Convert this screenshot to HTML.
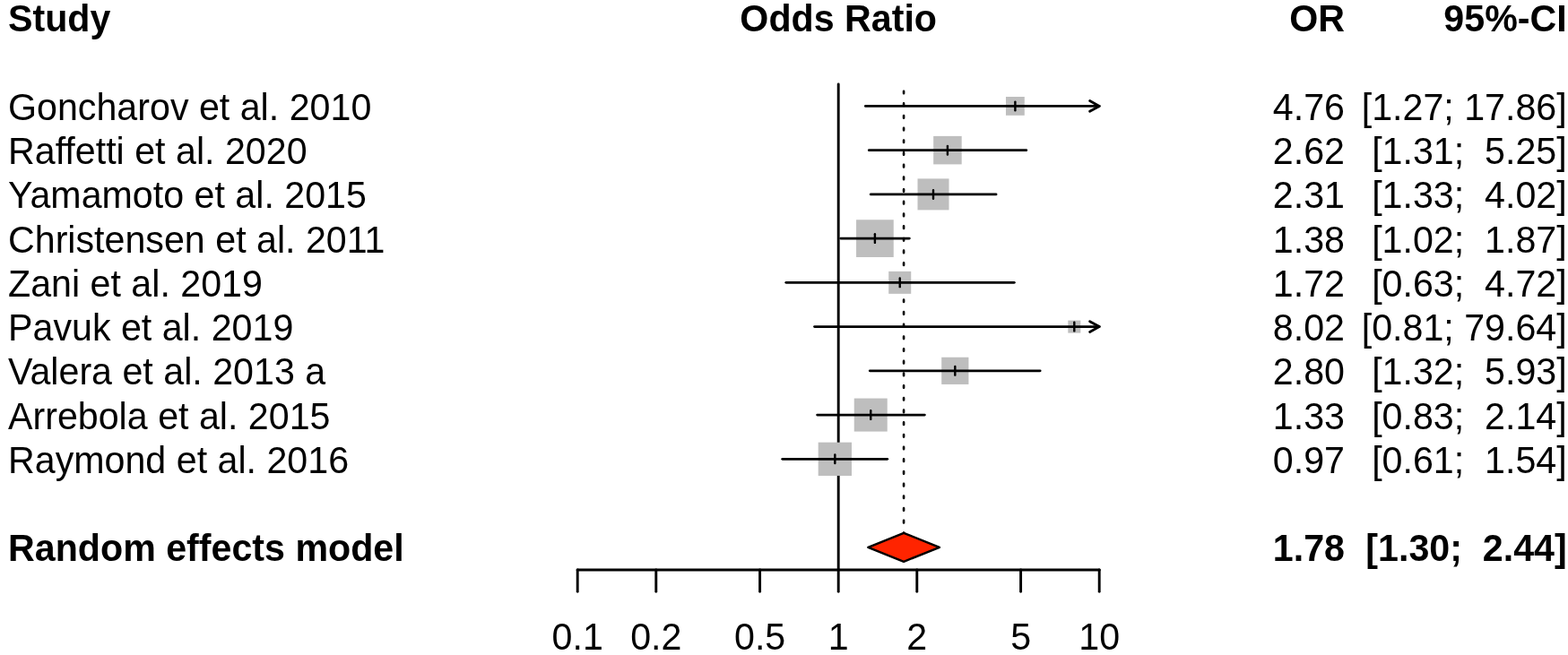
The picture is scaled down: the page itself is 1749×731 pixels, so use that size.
<!DOCTYPE html><html><head><meta charset="utf-8"><title>Forest plot</title><style>
html,body{margin:0;padding:0;background:#fff;width:1749px;height:731px;overflow:hidden}
svg{display:block}
text{font-family:"Liberation Sans",Arial,sans-serif;font-size:41.2px;fill:#000;white-space:pre}
.b{font-weight:bold}.e{text-anchor:end}.m{text-anchor:middle}
</style></head><body>
<svg width="1749" height="731" viewBox="0 0 1749 731">
<text class="b" transform="translate(9.00 35.10) scale(1 1.045)">Study</text>
<text class="b m" transform="translate(935.20 35.10) scale(1 1.045)">Odds Ratio</text>
<text class="b e" transform="translate(1500.00 35.10) scale(1 1.045)">OR</text>
<text class="b e" transform="translate(1747.70 35.10) scale(1 1.045)">95%-CI</text>
<line x1="935.2" y1="94" x2="935.2" y2="636" stroke="#000" stroke-width="2.9" stroke-linecap="round"/>
<line x1="1008.07" y1="101.7" x2="1008.07" y2="596" stroke="#000" stroke-width="2.6" stroke-dasharray="2.6 11.09" stroke-linecap="round"/>
<text transform="translate(9.00 134.00) scale(1 1.045)">Goncharov et al. 2010</text>
<text class="e" transform="translate(1500.00 134.00) scale(1 1.045)">4.76</text>
<text class="e" transform="translate(1747.70 134.00) scale(1 1.045)">[1.27; 17.86]</text>
<rect x="1121.98" y="108.00" width="20.80" height="20.80" fill="#bebebe"/>
<line x1="965.41" y1="118.40" x2="1226.20" y2="118.40" stroke="#000" stroke-width="2.85" stroke-linecap="round"/>
<line x1="1132.38" y1="113.60" x2="1132.38" y2="123.20" stroke="#000" stroke-width="2.4" stroke-linecap="round"/>
<polyline points="1215.60,112.60 1226.20,118.40 1215.60,124.20" fill="none" stroke="#000" stroke-width="2.85" stroke-linecap="round" stroke-linejoin="round"/>
<text transform="translate(9.00 183.24) scale(1 1.045)">Raffetti et al. 2020</text>
<text class="e" transform="translate(1500.00 183.24) scale(1 1.045)">2.62</text>
<text class="e" transform="translate(1747.70 183.24) scale(1 1.045)">[1.31;  5.25]</text>
<rect x="1041.18" y="151.89" width="31.50" height="31.50" fill="#bebebe"/>
<line x1="969.33" y1="167.64" x2="1144.77" y2="167.64" stroke="#000" stroke-width="2.85" stroke-linecap="round"/>
<line x1="1056.93" y1="162.84" x2="1056.93" y2="172.44" stroke="#000" stroke-width="2.4" stroke-linecap="round"/>
<text transform="translate(9.00 232.48) scale(1 1.045)">Yamamoto et al. 2015</text>
<text class="e" transform="translate(1500.00 232.48) scale(1 1.045)">2.31</text>
<text class="e" transform="translate(1747.70 232.48) scale(1 1.045)">[1.33;  4.02]</text>
<rect x="1023.51" y="199.38" width="35.00" height="35.00" fill="#bebebe"/>
<line x1="971.24" y1="216.88" x2="1111.03" y2="216.88" stroke="#000" stroke-width="2.85" stroke-linecap="round"/>
<line x1="1041.01" y1="212.08" x2="1041.01" y2="221.68" stroke="#000" stroke-width="2.4" stroke-linecap="round"/>
<text transform="translate(9.00 281.72) scale(1 1.045)">Christensen et al. 2011</text>
<text class="e" transform="translate(1500.00 281.72) scale(1 1.045)">1.38</text>
<text class="e" transform="translate(1747.70 281.72) scale(1 1.045)">[1.02;  1.87]</text>
<rect x="955.05" y="245.27" width="41.70" height="41.70" fill="#bebebe"/>
<line x1="937.70" y1="266.12" x2="1014.31" y2="266.12" stroke="#000" stroke-width="2.85" stroke-linecap="round"/>
<line x1="975.90" y1="261.32" x2="975.90" y2="270.92" stroke="#000" stroke-width="2.4" stroke-linecap="round"/>
<text transform="translate(9.00 330.96) scale(1 1.045)">Zani et al. 2019</text>
<text class="e" transform="translate(1500.00 330.96) scale(1 1.045)">1.72</text>
<text class="e" transform="translate(1747.70 330.96) scale(1 1.045)">[0.63;  4.72]</text>
<rect x="991.24" y="302.86" width="25.00" height="25.00" fill="#bebebe"/>
<line x1="876.81" y1="315.36" x2="1131.32" y2="315.36" stroke="#000" stroke-width="2.85" stroke-linecap="round"/>
<line x1="1003.74" y1="310.56" x2="1003.74" y2="320.16" stroke="#000" stroke-width="2.4" stroke-linecap="round"/>
<text transform="translate(9.00 380.20) scale(1 1.045)">Pavuk et al. 2019</text>
<text class="e" transform="translate(1500.00 380.20) scale(1 1.045)">8.02</text>
<text class="e" transform="translate(1747.70 380.20) scale(1 1.045)">[0.81; 79.64]</text>
<rect x="1191.31" y="357.60" width="14.00" height="14.00" fill="#bebebe"/>
<line x1="908.57" y1="364.60" x2="1226.20" y2="364.60" stroke="#000" stroke-width="2.85" stroke-linecap="round"/>
<line x1="1198.31" y1="359.80" x2="1198.31" y2="369.40" stroke="#000" stroke-width="2.4" stroke-linecap="round"/>
<polyline points="1215.60,358.80 1226.20,364.60 1215.60,370.40" fill="none" stroke="#000" stroke-width="2.85" stroke-linecap="round" stroke-linejoin="round"/>
<text transform="translate(9.00 429.44) scale(1 1.045)">Valera et al. 2013 a</text>
<text class="e" transform="translate(1500.00 429.44) scale(1 1.045)">2.80</text>
<text class="e" transform="translate(1747.70 429.44) scale(1 1.045)">[1.32;  5.93]</text>
<rect x="1050.22" y="398.74" width="30.20" height="30.20" fill="#bebebe"/>
<line x1="970.29" y1="413.84" x2="1160.16" y2="413.84" stroke="#000" stroke-width="2.85" stroke-linecap="round"/>
<line x1="1065.32" y1="409.04" x2="1065.32" y2="418.64" stroke="#000" stroke-width="2.4" stroke-linecap="round"/>
<text transform="translate(9.00 478.68) scale(1 1.045)">Arrebola et al. 2015</text>
<text class="e" transform="translate(1500.00 478.68) scale(1 1.045)">1.33</text>
<text class="e" transform="translate(1747.70 478.68) scale(1 1.045)">[0.83;  2.14]</text>
<rect x="952.74" y="444.58" width="37.00" height="37.00" fill="#bebebe"/>
<line x1="911.65" y1="463.08" x2="1031.35" y2="463.08" stroke="#000" stroke-width="2.85" stroke-linecap="round"/>
<line x1="971.24" y1="458.28" x2="971.24" y2="467.88" stroke="#000" stroke-width="2.4" stroke-linecap="round"/>
<text transform="translate(9.00 527.92) scale(1 1.045)">Raymond et al. 2016</text>
<text class="e" transform="translate(1500.00 527.92) scale(1 1.045)">0.97</text>
<text class="e" transform="translate(1747.70 527.92) scale(1 1.045)">[0.61;  1.54]</text>
<rect x="912.70" y="493.67" width="37.30" height="37.30" fill="#bebebe"/>
<line x1="872.73" y1="512.32" x2="989.77" y2="512.32" stroke="#000" stroke-width="2.85" stroke-linecap="round"/>
<line x1="931.35" y1="507.52" x2="931.35" y2="517.12" stroke="#000" stroke-width="2.4" stroke-linecap="round"/>
<text class="b" transform="translate(9.00 626.40) scale(1 1.045)">Random effects model</text>
<text class="b e" transform="translate(1500.00 626.40) scale(1 1.045)">1.78</text>
<text class="b e" transform="translate(1747.70 626.40) scale(1 1.045)">[1.30;  2.44]</text>
<polygon points="968.36,610.80 1008.07,594.80 1047.93,610.80 1008.07,626.80" fill="#ff2400" stroke="#000" stroke-width="2.4" stroke-linejoin="round"/>
<line x1="644.20" y1="636" x2="1226.20" y2="636" stroke="#000" stroke-width="3.2" stroke-linecap="round"/>
<line x1="644.20" y1="636" x2="644.20" y2="660.3" stroke="#000" stroke-width="2.9" stroke-linecap="round"/>
<text class="m" transform="translate(644.20 725.20) scale(1 1.045)">0.1</text>
<line x1="731.80" y1="636" x2="731.80" y2="660.3" stroke="#000" stroke-width="2.9" stroke-linecap="round"/>
<text class="m" transform="translate(731.80 725.20) scale(1 1.045)">0.2</text>
<line x1="847.60" y1="636" x2="847.60" y2="660.3" stroke="#000" stroke-width="2.9" stroke-linecap="round"/>
<text class="m" transform="translate(847.60 725.20) scale(1 1.045)">0.5</text>
<line x1="935.20" y1="636" x2="935.20" y2="660.3" stroke="#000" stroke-width="2.9" stroke-linecap="round"/>
<text class="m" transform="translate(935.20 725.20) scale(1 1.045)">1</text>
<line x1="1022.80" y1="636" x2="1022.80" y2="660.3" stroke="#000" stroke-width="2.9" stroke-linecap="round"/>
<text class="m" transform="translate(1022.80 725.20) scale(1 1.045)">2</text>
<line x1="1138.60" y1="636" x2="1138.60" y2="660.3" stroke="#000" stroke-width="2.9" stroke-linecap="round"/>
<text class="m" transform="translate(1138.60 725.20) scale(1 1.045)">5</text>
<line x1="1226.20" y1="636" x2="1226.20" y2="660.3" stroke="#000" stroke-width="2.9" stroke-linecap="round"/>
<text class="m" transform="translate(1226.20 725.20) scale(1 1.045)">10</text>
</svg></body></html>
